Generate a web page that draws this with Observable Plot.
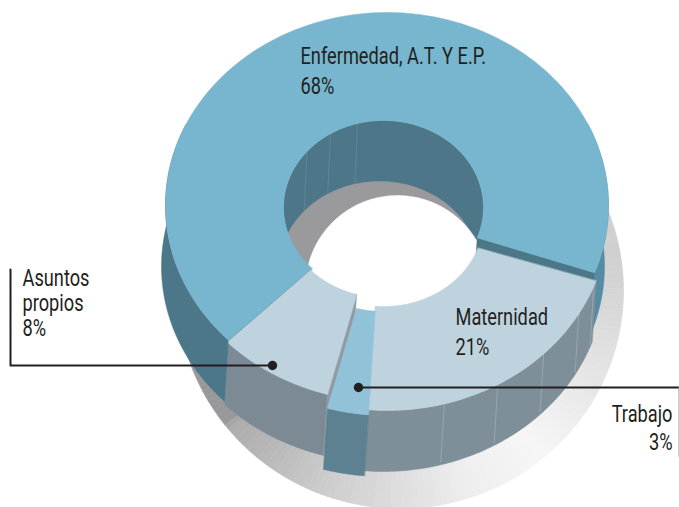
<!DOCTYPE html>
<html><head><meta charset="utf-8">
<script src="https://cdn.jsdelivr.net/npm/d3@7"></script>
<script src="https://cdn.jsdelivr.net/npm/@observablehq/plot@0.6"></script>
<style>html,body{margin:0;padding:0;background:#fff}svg{display:block}</style>
</head><body><div id="chart"></div>
<script>
// Values
const categories = ["Maternidad", "Trabajo", "Asuntos propios", "Enfermedad, A.T. Y E.P."];
const shares = [21, 3, 8, 68];
// Drawing style of each slice, same order
const lift = [12, 17, 3, 0];            // exploded downward
const turn = [0, 0, 0, 1.2];            // extra rotation
const stretch = [0, 0, 1.2, 0];
const faceColors = ["#bfd3df", "#92c2d7", "#bfd3df", "#78b6cf"];
const wallColors = ["#7f8f99", "#5e8192", "#7b8a94", "#4c7789"];
const startAngle = 19.2;
// Ring proportions
const outer = {cx: 386.5, cy: 205, rx: 221.5, ry: 193};
const inner = {cx: 383, cy: 207, rx: 100, ry: 87};
const depth = {dx: -4, dy: 61};
// Shadow colour by angle around the shadow ellipse
const shadowAngles = [-35, -10, 5, 25, 50, 70, 90, 110, 130, 141, 142, 200];
const shadowColors = ["#d4d4d4", "#cfcfcf", "#d8d8d8", "#e6e6e6", "#f6f6f6", "#efefef", "#dedede", "#cdcdcd", "#b6b6b6", "#acacac", "#98989b", "#98989b"];
// Wall seams
const outerSeams = [75, 60, 45, 30, 21];
const innerSeams = [220, 238, 255];

const pt = (e, deg, dx = 0, dy = 0) => {
  const a = deg * Math.PI / 180;
  return {x: e.cx + dx + e.rx * Math.cos(a), y: e.cy + dy + e.ry * Math.sin(a)};
};
const arc = (e, a0, a1, dx = 0, dy = 0) => {
  const n = Math.max(2, Math.ceil(Math.abs(a1 - a0)) + 1), out = [];
  for (let i = 0; i < n; i++) out.push(pt(e, a0 + (a1 - a0) * i / (n - 1), dx, dy));
  return out;
};
const poly = (points, color) => Plot.line(points, {x: "x", y: "y", fill: color, stroke: color, strokeWidth: 0.5, curve: "linear-closed"});
const wall = (e, a0, a1, color, lift = 0) =>
  poly([...arc(e, a0, a1, 0, lift), ...arc(e, a1, a0, depth.dx, depth.dy + lift)], color);
const face = (a0, a1, color, lift = 0) =>
  poly([...arc(outer, a0, a1, 0, lift), ...arc(inner, a1, a0, 0, lift)], color);
const radial = (a, color, lift = 0) => {
  const o = pt(outer, a, 0, lift), i = pt(inner, a, 0, lift);
  return poly([o, i, {x: i.x + depth.dx, y: i.y + depth.dy}, {x: o.x + depth.dx, y: o.y + depth.dy}], color);
};

// slice edges
let cum = startAngle;
const slices = categories.map((name, i) => {
  const a0 = cum + turn[i], a1 = cum + shares[i] * 3.6 + turn[i] + stretch[i];
  cum += shares[i] * 3.6;
  return {name, a0, a1, lift: lift[i], face: faceColors[i], wall: wallColors[i]};
});
const [mat, tra, asu, enf] = slices;

// shadow strips
const shadow = {cx: 400, cy: 290, rx: 223, ry: 218};
const shadowScale = d3.scaleLinear().domain(shadowAngles).range(shadowColors);
const shadowStrips = [];
for (let a = shadowAngles[0], id = 0; a < shadowAngles.at(-1); a += 1.5, id++) {
  const c = d3.rgb(shadowScale(a + 0.75)).formatHex();
  [{x: shadow.cx, y: shadow.cy}, pt(shadow, a), pt(shadow, a + 1.5)].forEach(p => shadowStrips.push({...p, id, c}));
}

// hole
const holeGround = {cx: 379, cy: 268, rx: 100, ry: 87};
const white = {cx: 397, cy: 287, rx: 92, ry: 92};

// seams
const seamRows = [];
outerSeams.forEach((a, k) => {
  const p = pt(outer, a, 0, 12);
  seamRows.push({...p, k: "o" + k}, {x: p.x + depth.dx * 0.9, y: p.y + depth.dy * 0.95, k: "o" + k});
});
const innerSeamRows = [];
innerSeams.forEach((a, k) => {
  const p = pt(inner, a);
  innerSeamRows.push({...p, k: "i" + k}, {x: p.x + depth.dx * .7, y: p.y + depth.dy, k: "i" + k});
});

// Labels and leaders
const labels = [
  {text: "Enfermedad, A.T. Y E.P.\n68%", x: 300, y: 42, anchor: "start", lh: 30},
  {text: "Maternidad\n21%", x: 455, y: 303, anchor: "start", lh: 30},
  {text: "Asuntos\npropios\n8%", x: 22, y: 268, anchor: "start", lh: 25},
  {text: "Trabajo\n3%", x: 672, y: 401, anchor: "end", lh: 28.5}
];
const leaderAsuntos = [{x: 10, y: 269}, {x: 10, y: 365}, {x: 272, y: 365}];
const leaderTrabajo = [{x: 358, y: 387}, {x: 679, y: 387}];
const leaderTick = [{x: 678.5, y: 387}, {x: 678.5, y: 456}];
const dots = [leaderAsuntos[2], leaderTrabajo[0]];

const textMark = l => Plot.text([l], {x: "x", y: "y", text: "text", textAnchor: l.anchor, lineAnchor: "top",
  lineHeight: l.lh / 24, fontSize: 24, fontFamily: "Roboto,'Liberation Sans',sans-serif", fill: "#231f20"});

const edgeOuter = pt(outer, enf.a0), edgeInner = pt(inner, enf.a0);

const plot = Plot.plot({
  width: 679, height: 507, margin: 0,
  x: {domain: [0, 679], range: [0, 679], axis: null},
  y: {domain: [0, 507], range: [0, 507], axis: null},
  marks: [
    Plot.line(shadowStrips, {x: "x", y: "y", z: "id", fill: "c", stroke: "c", strokeWidth: 0.6, curve: "linear-closed"}),
    // hole
    poly(arc(inner, 0, 360), "#4d7789"),
    Plot.line(innerSeamRows, {x: "x", y: "y", z: "k", stroke: "#ffffff", strokeOpacity: 0.1, strokeWidth: 1}),
    poly(arc(holeGround, 0, 360), "#9a9a9d"),
    poly(arc(white, 0, 360), "white"),
    // blue outer walls
    wall(outer, asu.a1, 205, "#4c7789"),
    wall(outer, -25, enf.a1 - 360, "#558ca3"),
    radial(enf.a1 - 360, "#4c7789"),
    face(enf.a0, enf.a1, enf.face),
    // asuntos
    wall(outer, asu.a0, asu.a1, asu.wall, asu.lift),
    radial(asu.a0, "#8f9aa2", asu.lift),
    poly([...arc(outer, asu.a0, asu.a1, 0, asu.lift), edgeOuter, edgeInner, ...arc(inner, asu.a1, asu.a0, 0, asu.lift)], asu.face),
    Plot.line([edgeOuter, edgeInner], {x: "x", y: "y", stroke: "#6a9bae", strokeWidth: 0.8}),
    // maternidad
    wall(outer, mat.a0, mat.a1, mat.wall, mat.lift),
    face(mat.a0, mat.a1, mat.face, mat.lift),
    // trabajo
    wall(outer, tra.a0, tra.a1, tra.wall, tra.lift),
    face(tra.a0, tra.a1, tra.face, tra.lift),
    // seams
    Plot.line(seamRows, {x: "x", y: "y", z: "k", stroke: "#ffffff", strokeOpacity: 0.2, strokeWidth: 1}),
    // leaders
    Plot.line(leaderAsuntos, {x: "x", y: "y", stroke: "#231f20", strokeWidth: 2, curve: "linear"}),
    Plot.line(leaderTrabajo, {x: "x", y: "y", stroke: "#231f20", strokeWidth: 2}),
    Plot.line(leaderTick, {x: "x", y: "y", stroke: "#9a9a9a", strokeWidth: 1}),
    Plot.dot(dots, {x: "x", y: "y", r: 4.7, fill: "#231f20"}),
    ...labels.map(textMark)
  ]
});
// Condense the label lettering, as in the original's narrow typeface
plot.querySelectorAll("text").forEach(t => {
  t.setAttribute("transform", (t.getAttribute("transform") || "") + " scale(0.76,1)");
});
document.getElementById("chart").append(plot);
</script></body></html>
